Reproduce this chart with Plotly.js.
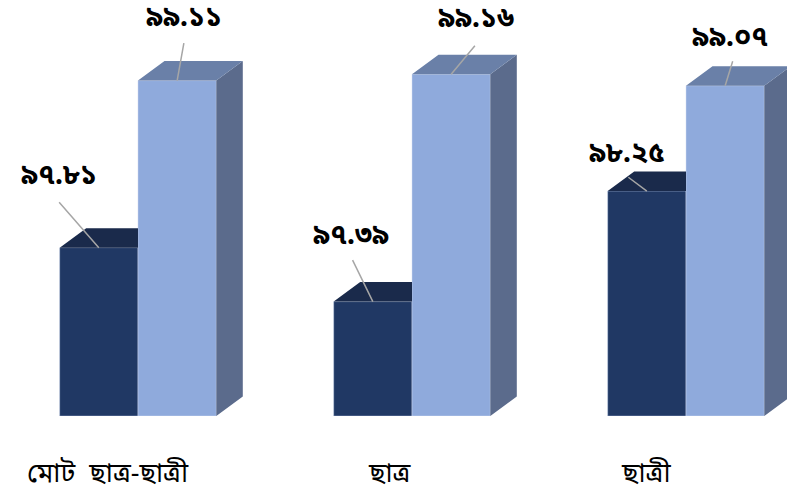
<!DOCTYPE html>
<html>
<head>
<meta charset="utf-8">
<script src="https://cdn.plot.ly/plotly-3.0.1.min.js"></script>
<style>html,body{margin:0;padding:0;background:#fff;}#chart{width:787px;height:494px;}</style>
</head>
<body>
<div id="chart"></div>
<script>
// ---- data ----
const categories = ['মোট ছাত্র-ছাত্রী', 'ছাত্র', 'ছাত্রী'];
const seriesDark = [97.81, 97.39, 98.25];
const seriesLight = [99.11, 99.16, 99.07];

// ---- helpers ----
const bnDigits = ['০','১','২','৩','৪','৫','৬','৭','৮','৯'];
function toBn(v) { return v.toFixed(2).replace(/[0-9]/g, d => bnDigits[+d]); }

const W = 787, H = 494;
const M = {l: 0, r: 0, t: 0, b: 78};
const BASE = 96.5, YMAX = 99.737;
const XR = [-0.5036, 2.3686];
const plotH = H - M.t - M.b;
const pxX = W / (XR[1] - XR[0]);
const pxY = plotH / (YMAX - BASE);
const bw = 78.3 / pxX;
const ddx = 26.5 / pxX, ddy = 19.5 / pxY;

const xs = categories.map((c, i) => i);

const C = {
  darkFront: '#203864', darkTop: '#1a2a4b',
  lightFront: '#8faadc', lightTop: '#6a80a8', lightSide: '#5b6b8c',
  leader: '#a6a6a6'
};

function poly(list) {
  const x = [], y = [];
  list.forEach(pts => { pts.forEach(p => { x.push(p[0]); y.push(p[1]); }); x.push(null); y.push(null); });
  return {x, y};
}

const darkTop = poly(xs.map((i, k) => {
  const v = seriesDark[k];
  return [[i - bw, v], [i, v], [i, v + ddy], [i - bw + ddx, v + ddy], [i - bw, v]];
}));
const lightTop = poly(xs.map((i, k) => {
  const v = seriesLight[k];
  return [[i, v], [i + bw, v], [i + bw + ddx, v + ddy], [i + ddx, v + ddy], [i, v]];
}));
const lightSide = poly(xs.map((i, k) => {
  const v = seriesLight[k];
  return [[i + bw, BASE], [i + bw, v], [i + bw + ddx, v + ddy], [i + bw + ddx, BASE + ddy], [i + bw, BASE]];
}));

function face(d, color) {
  return {type: 'scatter', mode: 'lines', x: d.x, y: d.y, fill: 'toself', fillcolor: color,
    line: {width: 0, color: color}, hoverinfo: 'skip', showlegend: false};
}

const traces = [
  {type: 'bar', x: xs, y: seriesDark.map(v => v - BASE), base: BASE, offset: -bw, width: bw,
   marker: {color: C.darkFront, line: {width: 0.8, color: 'rgba(190,205,235,0.55)'}}, hoverinfo: 'skip', showlegend: false},
  {type: 'bar', x: xs, y: seriesLight.map(v => v - BASE), base: BASE, offset: 0, width: bw,
   marker: {color: C.lightFront, line: {width: 0.8, color: 'rgba(210,220,240,0.6)'}}, hoverinfo: 'skip', showlegend: false},
  face(darkTop, C.darkTop),
  face(lightSide, C.lightSide),
  face(lightTop, C.lightTop)
];

// label / leader offsets (pixels) : [textDx, textDy(up), leaderAx, leaderAy]
const darkOff = [[-40, 71, -41, -47], [-22, 65, -21, -43], [-20, 37, -20, -15]];
const lightOff = [[7, 62, 7, -39], [25, 55, 25, -30], [5, 47, 8, -26]];

const valFont = {family: "'Noto Sans Bengali', 'Noto Serif Bengali', 'Lohit Bengali', 'FreeSans', 'Noto Sans', sans-serif", size: 28, color: '#000', weight: 700};
const catFont = {family: "'Noto Sans Bengali', 'Lohit Bengali', 'FreeSans', 'Noto Sans', sans-serif", size: 27, color: '#000'};

const annotations = [];
function addLabel(xc, v, off) {
  annotations.push({x: xc, y: v, xref: 'x', yref: 'y', text: '', showarrow: true, arrowhead: 0,
    arrowwidth: 1.5, arrowcolor: C.leader, ax: off[2], ay: off[3], standoff: 0});
  annotations.push({x: xc, y: v, xref: 'x', yref: 'y', text: '<b>' + toBn(v) + '</b>', showarrow: false,
    xshift: off[0], yshift: off[1], font: valFont, xanchor: 'center', yanchor: 'middle'});
}
xs.forEach((i, k) => {
  addLabel(i - bw / 2, seriesDark[k], darkOff[k]);
  addLabel(i + bw / 2, seriesLight[k], lightOff[k]);
});
const catShift = [-30, -22, -40];
categories.forEach((c, k) => {
  annotations.push({x: xs[k], y: 0, xref: 'x', yref: 'paper', text: c.replace(/ /g, '\u00a0\u00a0'), showarrow: false,
    xshift: catShift[k], yshift: -59, font: catFont, xanchor: 'center', yanchor: 'middle'});
});

const layout = {
  width: W, height: H, margin: M,
  paper_bgcolor: '#fff', plot_bgcolor: '#fff',
  xaxis: {range: XR, visible: false, fixedrange: true},
  yaxis: {range: [BASE, YMAX], visible: false, fixedrange: true},
  barmode: 'overlay',
  annotations: annotations,
  showlegend: false
};

Plotly.newPlot('chart', traces, layout, {displayModeBar: false, staticPlot: true});
</script>
</body>
</html>
